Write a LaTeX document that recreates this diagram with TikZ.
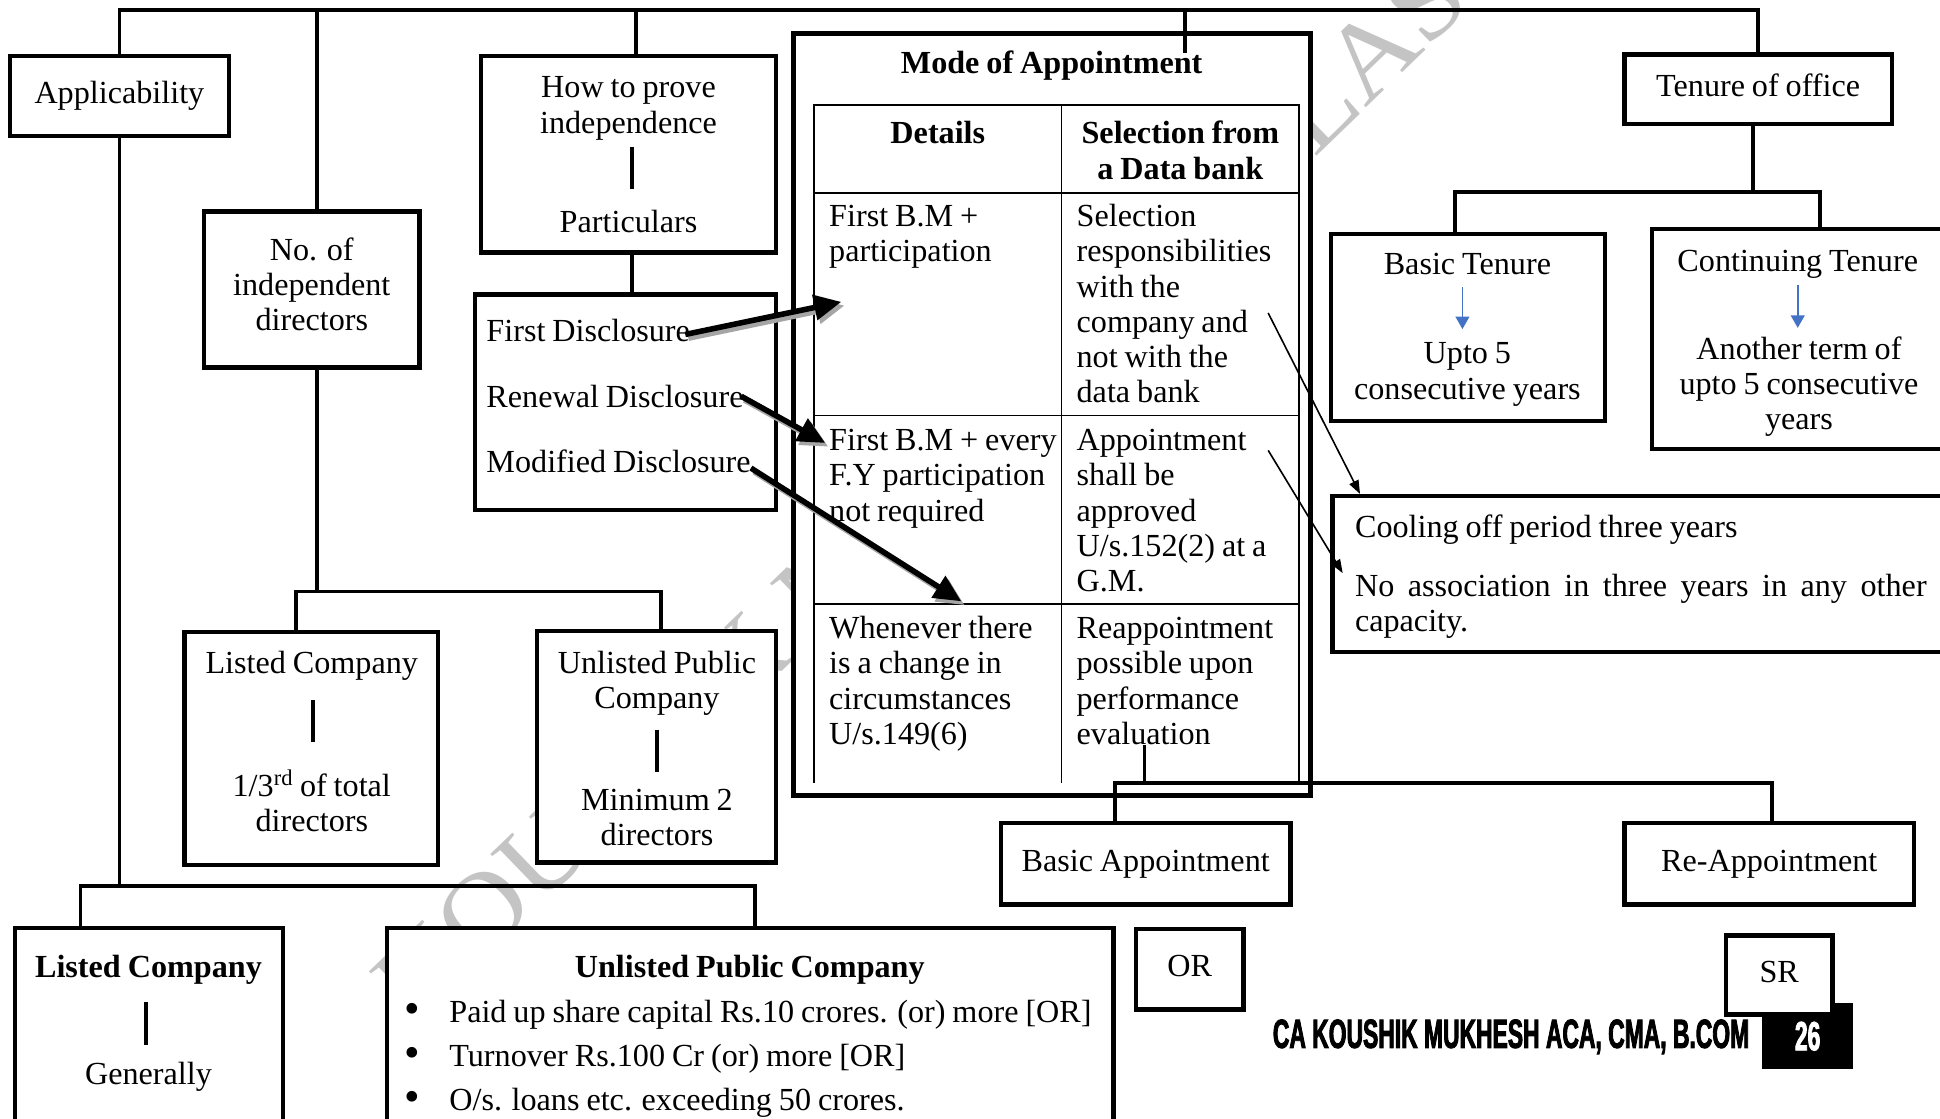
\documentclass[tikz,border=0pt]{standalone}
\usepackage{fontspec}
\setmainfont{Liberation Serif}[WordSpace=0.86]
\newfontfamily\impactfont{Liberation Sans}[FakeStretch=0.56,FakeBold=2]
\newfontfamily\wmfont{Liberation Serif}[FakeStretch=1.08]
\usetikzlibrary{arrows.meta,calc}
\definecolor{wmgray}{RGB}{196,196,196}
\definecolor{shadowgray}{RGB}{165,165,165}
\definecolor{tipblue}{RGB}{68,114,196}
% strut that fixes the height of a first text line
\newcommand\fl{\leavevmode\vrule height 20pt depth 0pt width 0pt\relax}
% large list bullet
\newcommand\bigbullet{\makebox[36pt][l]{\fontsize{36}{36}\selectfont\raisebox{-1pt}{\textbullet}}}
\tikzset{
  box/.style={draw, line width=3.5pt, fill=white, inner sep=0pt,
    text height=18pt, text depth=6pt,
    font=\fontsize{26}{28.5}\selectfont, align=center},
  txt/.style={inner sep=0pt, font=\fontsize{26}{28.5}\selectfont, align=center, anchor=north},
  btxt/.style={txt, font=\fontsize{26}{28.5}\selectfont\bfseries},
  ltxt/.style={inner sep=0pt, font=\fontsize{26}{28.5}\selectfont, align=left, anchor=north west},
  link/.style={line width=3pt},
  bar/.style={line width=3pt},
  grid/.style={line width=1.2pt},
  fatarrow/.style={line width=4.5pt, -{Triangle[length=22pt,width=20pt]}},
  fatshadow/.style={fatarrow, draw=shadowgray, transform canvas={xshift=2.5pt,yshift=-3pt}},
  thinarrow/.style={line width=1.3pt, -{Triangle[length=11pt,width=8pt]}},
  bluearrow/.style={line width=1.5pt, draw=tipblue, -{Triangle[length=10pt,width=11pt]}},
  wm/.style={inner sep=0pt, text=wmgray, font=\wmfont\fontsize{88}{88}\selectfont},
}
\begin{document}
\begin{tikzpicture}[x=1pt,y=-1pt]
\useasboundingbox (0,0) rectangle (1568,904);
\clip (0,0) rectangle (1568,904);
\fill[white] (0,0) rectangle (1568,904);

% watermark behind everything
\coordinate (wmL) at (1062,128);
\node[wm, rotate=44, anchor=base east] (wm1) at (wmL) {KOUSHIK MUKHESH C};
\node[wm, rotate=44, anchor=base west] (wm2) at (wmL) {LASSES};

% ---------- left branches ----------
\node[box, minimum width=177pt, minimum height=65pt] (app) at (96.5,77.5) {Applicability};

\node[box, minimum width=174pt, minimum height=126pt] (nod) at (252,234) {};
\node[txt] (nodt) at (252,190) {\fl No. of\\independent\\directors};

\node[box, minimum width=238pt, minimum height=159pt] (how) at (508,124.5) {};
\node[txt] (howa) at (508,59) {\fl How to prove\\independence};
\node[txt] (howb) at (508,168) {\fl Particulars};
\draw[bar] (511,119) -- (511,153);

\node[box, minimum width=243pt, minimum height=174pt] (disc) at (505.5,325) {};
\node[ltxt] (d1) at (393,256) {\fl First Disclosure};
\node[ltxt] (d2) at (393,309) {\fl Renewal Disclosure};
\node[ltxt] (d3) at (393,362) {\fl Modified Disclosure};

\node[box, minimum width=205pt, minimum height=188pt] (lc) at (251.5,605) {};
\node[txt] (lca) at (252,524) {\fl Listed Company};
\draw[bar] (253,566) -- (253,600);
\node[txt] (lcb) at (252,622) {\fl 1/3\textsuperscript{rd} of total\\directors};

\node[box, minimum width=193pt, minimum height=187pt] (up) at (530.5,603.5) {};
\node[txt] (upa) at (531,524) {\fl Unlisted Public\\Company};
\draw[bar] (531,590) -- (531,624);
\node[txt] (upb) at (531,635) {\fl Minimum 2\\directors};

\node[box, minimum width=217pt, minimum height=180pt] (blc) at (120.5,840) {};
\node[btxt] (blca) at (120,770) {\fl Listed Company};
\draw[bar] (118,810) -- (118,845);
\node[txt] (blcb) at (120,856) {\fl Generally};

\node[box, minimum width=587pt, minimum height=180pt] (bup) at (606.5,840) {};
\node[btxt] (bupa) at (606,770) {\fl Unlisted Public Company};
\node[ltxt, font=\fontsize{26}{35.5}\selectfont] (bupb) at (327,806)
  {\fl\bigbullet Paid up share capital Rs.10 crores. (or) more [OR]\\
   \bigbullet Turnover Rs.100 Cr (or) more [OR]\\
   \bigbullet O/s. loans etc. exceeding 50 crores.};

% ---------- mode of appointment ----------
\node[box, line width=4pt, minimum width=418pt, minimum height=616pt] (mode) at (850,335) {};
\node[btxt] (modet) at (850,39) {\fl Mode of Appointment};
\draw[grid] (658,633) -- (658,85) -- (1050,85) -- (1050,633);
\draw[grid] (858,85) -- (858,633);
\draw[grid] (658,156) -- (1050,156);
\draw[grid] (658,336) -- (1050,336);
\draw[grid] (658,488) -- (1050,488);
\node[btxt] (hd1) at (758,96) {\fl Details};
\node[btxt] (hd2) at (954,96) {\fl Selection from\\a Data bank};
\node[ltxt] (r1a) at (670,163) {\fl First B.M +\\participation};
\node[ltxt] (r1b) at (870,163) {\fl Selection\\responsibilities\\with the\\company and\\not with the\\data bank};
\node[ltxt] (r2a) at (670,344) {\fl First B.M + every\\F.Y participation\\not required};
\node[ltxt] (r2b) at (870,344) {\fl Appointment\\shall be\\approved\\U/s.152(2) at a\\G.M.};
\node[ltxt] (r3a) at (670,496) {\fl Whenever there\\is a change in\\circumstances\\U/s.149(6)};
\node[ltxt] (r3b) at (870,496) {\fl Reappointment\\possible upon\\performance\\evaluation};

% ---------- tenure ----------
\node[box, minimum width=216pt, minimum height=56pt] (ten) at (1421,72) {Tenure of office};
\node[box, minimum width=221pt, minimum height=151pt] (bt) at (1186.5,264.5) {};
\node[txt] (bta) at (1186,202) {\fl Basic Tenure};
\node[txt] (btb) at (1186,274) {\fl Upto 5\\consecutive years};
\node[box, minimum width=265pt, minimum height=178pt] (ct) at (1467.5,274) {};
\node[txt] (cta) at (1453,199) {\fl Continuing Tenure};
\node[txt] (ctb) at (1454,270) {\fl Another term of\\upto 5 consecutive\\years};
\node[box, minimum width=523pt, minimum height=126pt] (cool) at (1338.5,464) {};
\node[ltxt] (coola) at (1095,414) {\fl Cooling off period three years};
\node[ltxt, text width=462pt, align=justify] (coolb) at (1095,462)
  {\fl No association in three years in any other \mbox{capacity.}};

% ---------- appointment kinds ----------
\node[box, minimum width=234pt, minimum height=66pt] (ba) at (926,698) {Basic Appointment};
\node[box, minimum width=234pt, minimum height=66pt] (ra) at (1430,698) {Re-Appointment};
\node[box, minimum width=87pt, minimum height=65pt] (orb) at (961.5,783.5) {OR};

% ---------- footer ----------
\node[anchor=east, inner sep=0pt, font={\impactfont\bfseries\fontsize{33}{33}\selectfont}] (foot)
  at (1414,838) {CA KOUSHIK MUKHESH ACA, CMA, B.COM};
\node[fill=black, minimum width=74pt, minimum height=53pt, inner sep=0pt, text=white,
  font={\impactfont\bfseries\fontsize{33}{33}\selectfont}] (pg) at (1461,837.5) {26};
\node[box, minimum width=86pt, minimum height=64pt] (sr) at (1438,788) {SR};

% ---------- connectors ----------
\coordinate (bus) at (0,8);
\coordinate (nodtop) at ([xshift=4pt]nod.north);
\coordinate (howtop) at ([xshift=6pt]how.north);
\coordinate (modetap) at (958,43);
\draw[link] (app.north) |- (bus -| ten.north) -- (ten.north);
\draw[link] (nodtop) -- (nodtop |- bus);
\draw[link] (howtop) -- (howtop |- bus);
\draw[link] (modetap) -- (modetap |- bus);

\coordinate (appbus) at (0,716);
\coordinate (blctap) at ([xshift=-55.5pt]blc.north);
\coordinate (buptap) at ([xshift=3.5pt]bup.north);
\draw[link] (app.south) -- (app.south |- appbus);
\draw[link] (blctap) |- (buptap |- appbus) -- (buptap);

\coordinate (midbus) at (0,478);
\coordinate (nodbot) at ([xshift=4pt]nod.south);
\coordinate (lctap) at ([xshift=-12.5pt]lc.north);
\coordinate (uptap) at ([xshift=3.5pt]up.north);
\draw[link] (nodbot) -- (nodbot |- midbus);
\draw[link] (lctap) |- (uptap |- midbus) -- (uptap);

\draw[link] ([xshift=3pt]how.south) -- ([xshift=5.5pt]disc.north);

\coordinate (tenbus) at (0,155);
\coordinate (bttap) at ([xshift=-10.5pt]bt.north);
\coordinate (cttap) at ([xshift=3.5pt]ct.north);
\draw[link] ([xshift=-4pt]ten.south) -- ([xshift=-4pt]ten.south |- tenbus);
\draw[link] (bttap) |- (cttap |- tenbus) -- (cttap);

\coordinate (apbus) at (0,633);
\coordinate (reaptap) at (925,602);
\coordinate (batap) at ([xshift=-25pt]ba.north);
\coordinate (ratap) at ([xshift=2pt]ra.north);
\draw[link] (reaptap) -- (reaptap |- apbus);
\draw[link] (batap) |- (ratap |- apbus) -- (ratap);

% blue arrows inside the tenure boxes
\coordinate (bta1) at (1182,232); \coordinate (bta2) at (1182,266);
\coordinate (cta1) at (1453,230); \coordinate (cta2) at (1453,265);
\draw[bluearrow] (bta1) -- (bta2);
\draw[bluearrow] (cta1) -- (cta2);

% thin arrows to the cooling-off box
\coordinate (ta1) at (1025,253);
\coordinate (ta2) at (1025,364);
\draw[thinarrow] (ta1) -- ([xshift=24pt]cool.north west);
\draw[thinarrow] (ta2) -- ([xshift=10pt,yshift=-64pt]cool.north west);

% heavy arrows from the disclosures
\coordinate (tip1) at (680,244);
\coordinate (tip2) at (667,358);
\coordinate (tip3) at (777,486);
\draw[fatshadow] ([xshift=-4pt,yshift=-4pt]d1.east) -- (tip1);
\draw[fatshadow] ([xshift=-2pt,yshift=-1pt]d2.east) -- (tip2);
\draw[fatshadow] ([xshift=0pt,yshift=-6pt]d3.east) -- (tip3);
\draw[fatarrow] ([xshift=-4pt,yshift=-4pt]d1.east) -- (tip1);
\draw[fatarrow] ([xshift=-2pt,yshift=-1pt]d2.east) -- (tip2);
\draw[fatarrow] ([xshift=0pt,yshift=-6pt]d3.east) -- (tip3);
\end{tikzpicture}
\end{document}
